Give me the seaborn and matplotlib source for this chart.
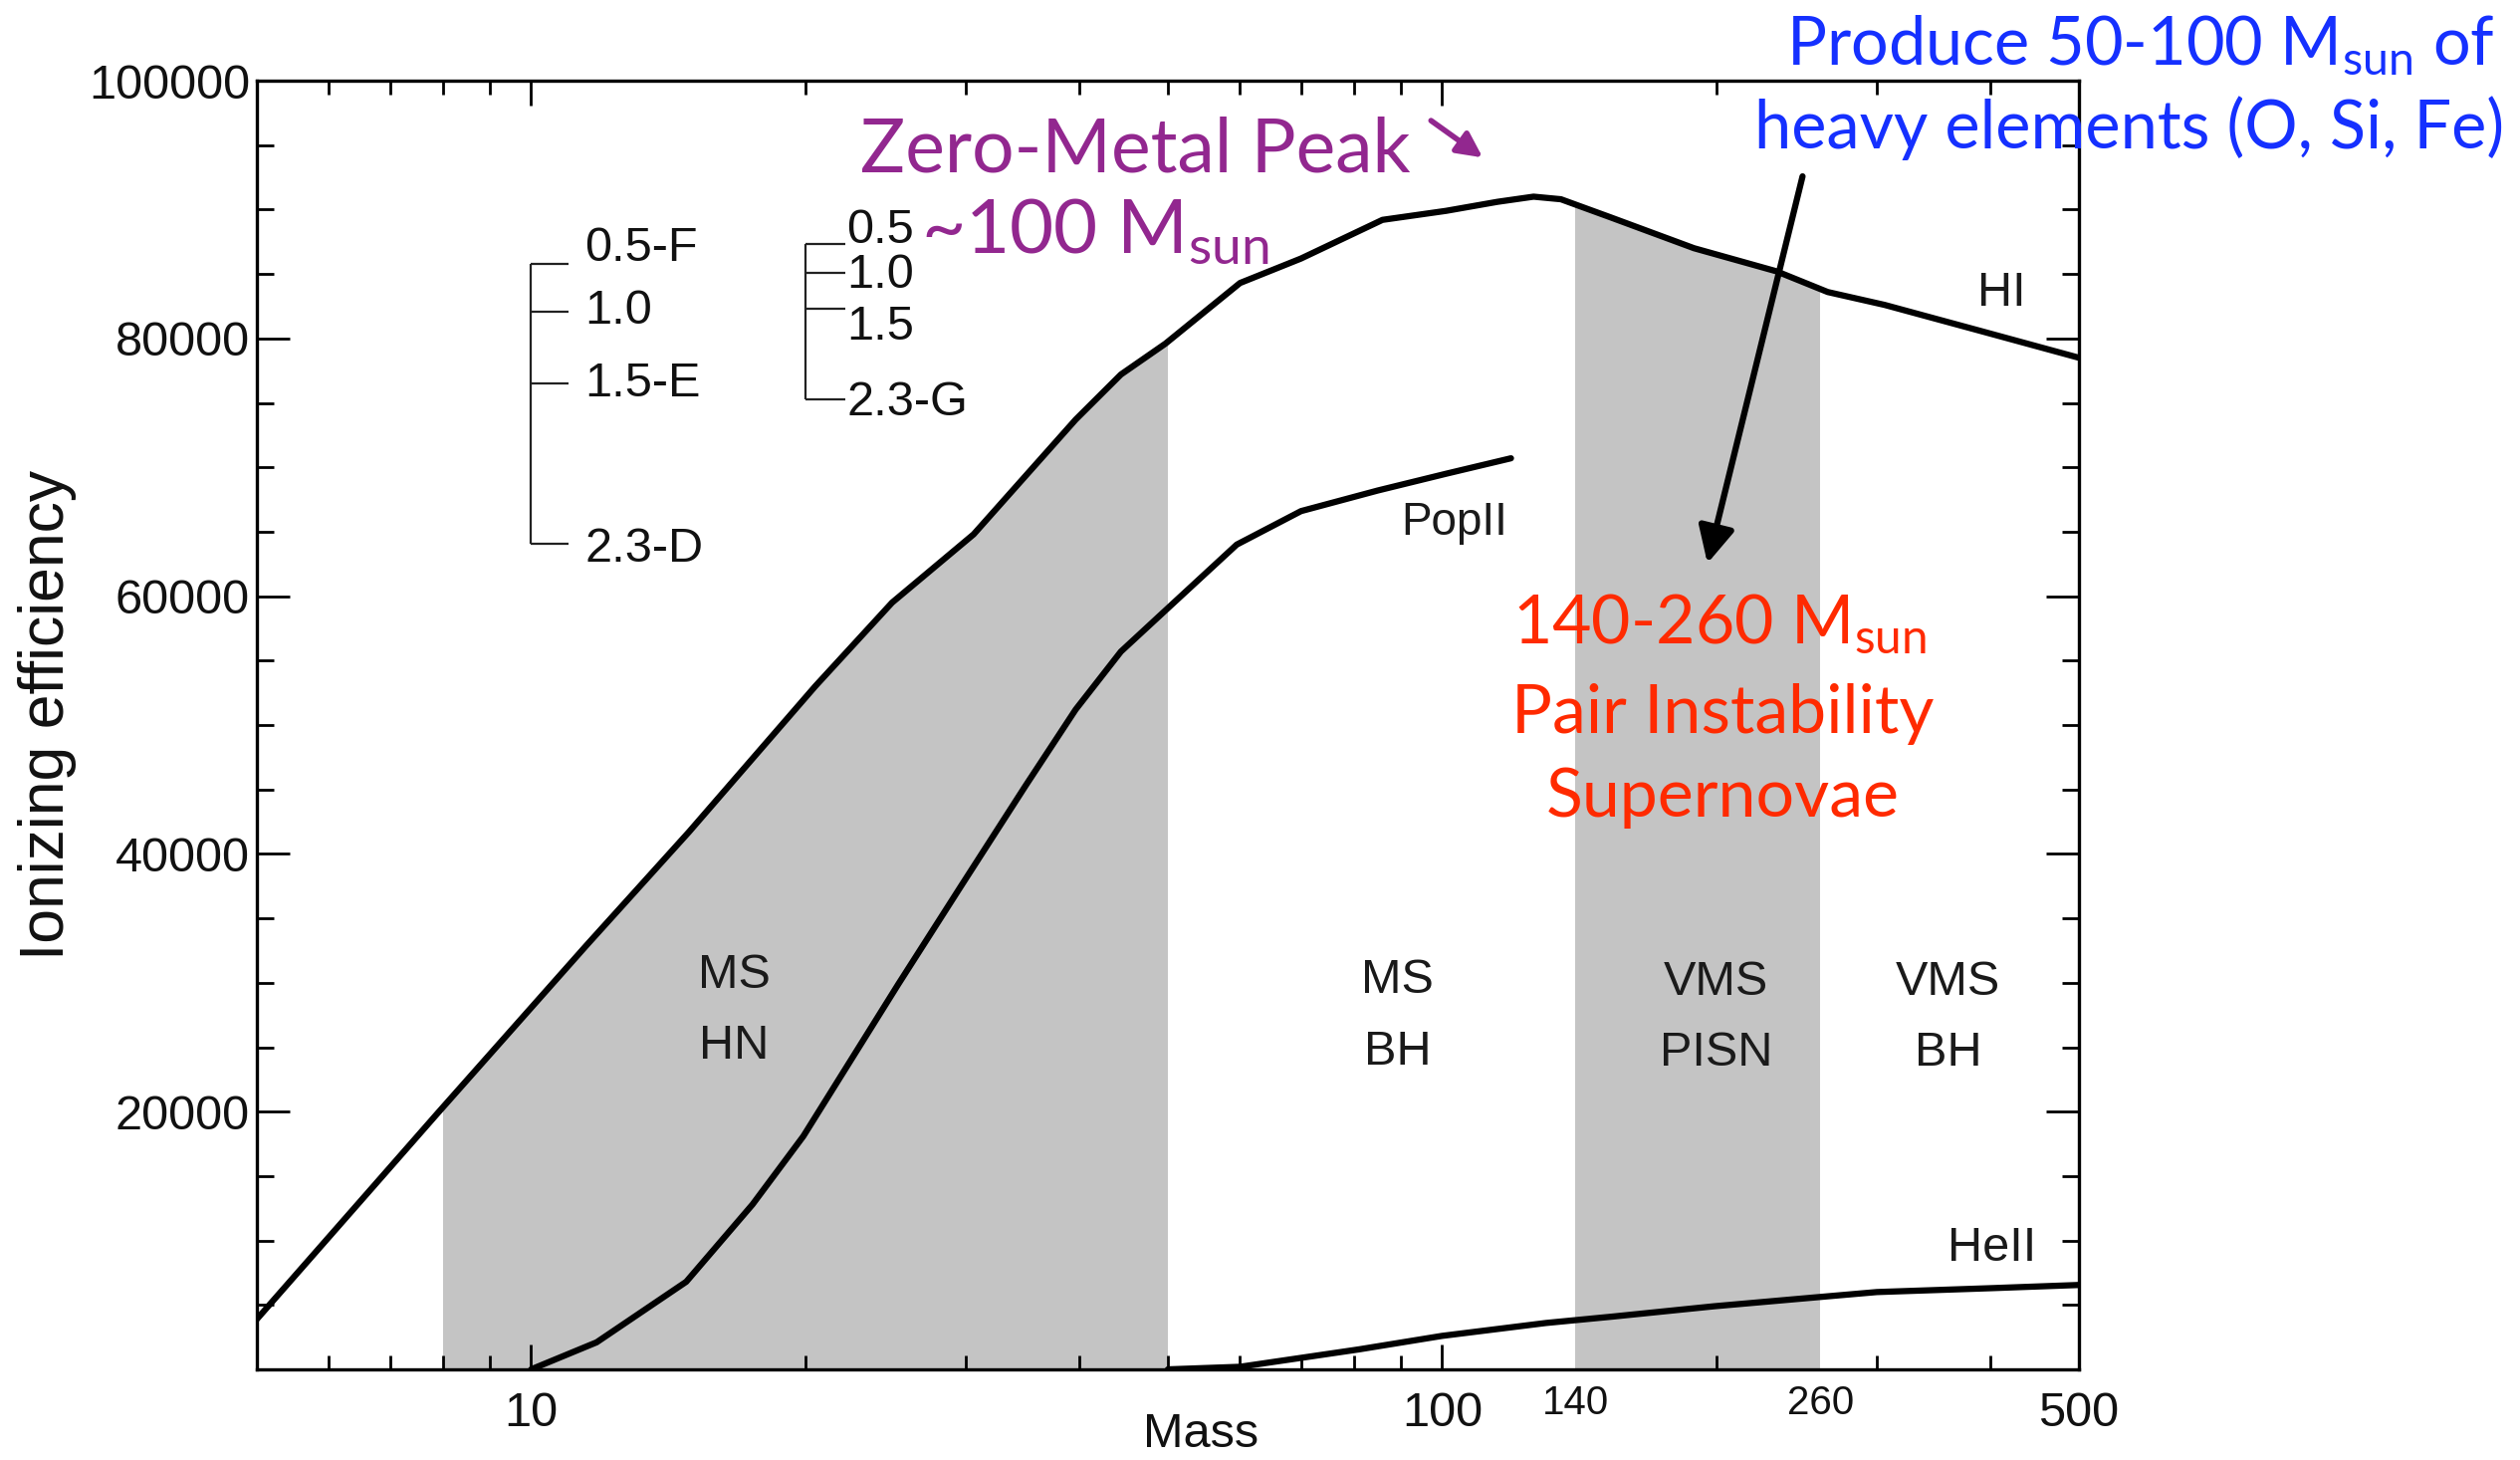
import matplotlib
matplotlib.use("Agg")
import matplotlib.pyplot as plt
import seaborn as sns
import pandas as pd
from matplotlib.patches import Polygon
from matplotlib.ticker import FixedLocator, FixedFormatter, NullFormatter, MultipleLocator

# ---- curves: ionizing efficiency vs stellar mass ----
hi_mass = [5, 7.9, 11.5, 14.9, 20.5, 24.9, 30.6, 39.6, 44.4, 49.7, 60, 70, 86, 101,
           115, 126, 135, 153, 189, 233, 265, 306, 389, 500]
hi_eff = [3900, 19900, 32900, 41700, 53000, 59500, 64800, 73700, 77200, 79600, 84300,
          86200, 89200, 89900, 90600, 91000, 90800, 89400, 87000, 85200, 83600, 82600,
          80600, 78500]

popii_mass = [10, 11.8, 14.8, 17.5, 19.9, 25.3, 29.7, 34.9, 39.6, 44.4, 49.7, 59.5, 70,
              85, 101, 119]
popii_eff = [0, 2100, 6800, 12800, 18100, 29900, 37600, 45300, 51200, 55700, 58900,
             64000, 66600, 68200, 69500, 70700]

heii_mass = [50, 60, 81, 100, 130, 154, 199, 263, 300, 400, 500]
heii_eff = [0, 200, 1550, 2600, 3600, 4100, 4900, 5650, 6000, 6300, 6550]

# shaded mass ranges (MS-HN and PISN)
band_lo = [8, 140]
band_hi = [50, 260]

# IMF slope brackets
imf_left_levels = [85800, 82100, 76500, 64100]
imf_left_labels = ["0.5-F", "1.0", "1.5-E", "2.3-D"]
imf_left_label_y = [86970, 82100, 76460, 63630]
imf_right_levels = [87300, 85100, 82300, 75300]
imf_right_labels = ["0.5", "1.0", "1.5", "2.3-G"]
imf_right_label_y = [88360, 84920, 80900, 75000]

x_major = [10, 100, 500]
x_major_labels = ["10", "100", "500"]
x_minor = [6, 7, 8, 9, 20, 30, 40, 50, 60, 70, 80, 90, 200, 300, 400]
y_major = [20000, 40000, 60000, 80000, 100000]

sns.set_theme(style="ticks")
plt.rcParams["font.family"] = ["Liberation Sans", "DejaVu Sans"]
plt.rcParams["mathtext.fontset"] = "custom"
plt.rcParams["mathtext.rm"] = "Lato"
plt.rcParams["mathtext.it"] = "Lato:italic"
plt.rcParams["mathtext.bf"] = "Lato:bold"

fig = plt.figure(figsize=(25.31, 14.66), dpi=100)
fig.patch.set_facecolor("white")
ax = fig.add_axes([0.10194, 0.06207, 0.72303, 0.88267])
ax.set_facecolor("white")
ax.set_xscale("log")
ax.set_xlim(5, 500)
ax.set_ylim(0, 100000)

# gray bands only under the HI curve
hi_poly = Polygon(list(zip(hi_mass, hi_eff)) + [(500, 0), (5, 0)], closed=True,
                  transform=ax.transData, facecolor="none", edgecolor="none")
ax.add_patch(hi_poly)
for lo, hi in zip(band_lo, band_hi):
    span = ax.axvspan(lo, hi, color="#c4c4c4", lw=0, zorder=0.5)
    span.set_clip_path(hi_poly)

line_kw = dict(color="black", linewidth=4.5, ax=ax, legend=False)
sns.lineplot(data=pd.DataFrame({"m": hi_mass, "e": hi_eff}), x="m", y="e", **line_kw)
sns.lineplot(data=pd.DataFrame({"m": popii_mass, "e": popii_eff}), x="m", y="e", **line_kw)
sns.lineplot(data=pd.DataFrame({"m": heii_mass, "e": heii_eff}), x="m", y="e", **line_kw)

# axes styling
for s in ax.spines.values():
    s.set_linewidth(2.4)
    s.set_color("black")
ax.xaxis.set_major_locator(FixedLocator(x_major))
ax.xaxis.set_major_formatter(FixedFormatter(x_major_labels))
ax.xaxis.set_minor_locator(FixedLocator(x_minor))
ax.xaxis.set_minor_formatter(NullFormatter())
ax.yaxis.set_major_locator(FixedLocator(y_major))
ax.yaxis.set_major_formatter(FixedFormatter([str(v) for v in y_major]))
ax.yaxis.set_minor_locator(MultipleLocator(5000))
ax.tick_params(which="both", direction="in", top=True, right=True, colors="black",
               labelsize=35, width=2)
ax.tick_params(axis="y", which="major", length=24, pad=5)
ax.tick_params(axis="y", which="minor", length=12)
ax.tick_params(axis="x", which="major", length=18, pad=16)
ax.tick_params(axis="x", which="minor", length=10)
for lab in ax.get_xticklabels() + ax.get_yticklabels():
    lab.set_color("#111111")

xt = ax.get_xaxis_transform()
for v in (140, 260):
    ax.text(v, -0.026, str(v), transform=xt, ha="center", va="center",
            fontsize=29, color="#111111")

ax.set_xlabel("Mass", fontsize=35, color="#111111")
ax.xaxis.label.set_va("center")
ax.xaxis.set_label_coords(0.518, -0.051)
ax.set_ylabel("Ionizing efficiency", fontsize=45, color="#111111")
ax.yaxis.label.set_va("center")
ax.yaxis.set_label_coords(-0.115, 0.508)

# region labels
reg_kw = dict(ha="center", va="center", fontsize=35, color="#1a1a1a", linespacing=1.75)
ax.text(16.7, 27800, "MS\nHN", **reg_kw)
ax.text(89.3, 27400, "MS\nBH", **reg_kw)
ax.text(200, 27300, "VMS\nPISN", **reg_kw)
ax.text(359, 27300, "VMS\nBH", **reg_kw)
ax.text(411, 83500, "HI", ha="center", va="center", fontsize=35, color="#1a1a1a")
ax.text(401, 9360, "HeII", ha="center", va="center", fontsize=35, color="#1a1a1a")
ax.text(103, 65650, "PopII", ha="center", va="center", fontsize=33, color="#1a1a1a")

# IMF brackets
br_kw = dict(color="#222222", lw=1.6)
ax.vlines(10, min(imf_left_levels), max(imf_left_levels), **br_kw)
ax.hlines(imf_left_levels, 10, 10.98, **br_kw)
for t, y in zip(imf_left_labels, imf_left_label_y):
    ax.text(11.45, y, t, ha="left", va="center", fontsize=35, color="#111111")
ax.vlines(20, min(imf_right_levels), max(imf_right_levels), **br_kw)
ax.hlines(imf_right_levels, 20, 22.1, **br_kw)
for t, y in zip(imf_right_labels, imf_right_label_y):
    ax.text(22.2, y, t, ha="left", va="center", fontsize=35, color="#111111")


def fpos(x, y):
    return x / 1568, 1 - y / 908


purple = "#92278f"
blue = "#1530ff"
red = "#ff2a00"

fig.text(*fpos(535, 107), "Zero-Metal Peak", family="Lato", fontsize=54,
         color=purple, ha="left", va="baseline")
fig.text(*fpos(573, 157), r"~100 M$_{\mathrm{sun}}$", family="Lato", fontsize=55,
         color=purple, ha="left", va="baseline")
fig.add_artist(matplotlib.patches.FancyArrowPatch(
    fpos(889, 74), fpos(924, 99), transform=fig.transFigure,
    arrowstyle="-|>", mutation_scale=38, lw=4, color=purple))

fig.text(*fpos(1552, 40), r"Produce 50-100 M$_{\mathrm{sun}}$ of", family="Lato",
         fontsize=48, color=blue, ha="right", va="baseline")
fig.text(*fpos(1558, 92), "heavy elements (O, Si, Fe)", family="Lato",
         fontsize=48, color=blue, ha="right", va="baseline")

fig.text(*fpos(1070, 400), r"140-260 M$_{\mathrm{sun}}$", family="Lato",
         fontsize=49, color=red, ha="center", va="baseline")
fig.text(*fpos(1072, 456), "Pair Instability", family="Lato",
         fontsize=49, color=red, ha="center", va="baseline")
fig.text(*fpos(1072, 508), "Supernovae", family="Lato",
         fontsize=49, color=red, ha="center", va="baseline")

fig.add_artist(matplotlib.patches.FancyArrowPatch(
    fpos(1122, 108), fpos(1062, 352), transform=fig.transFigure,
    arrowstyle="-|>", mutation_scale=55, lw=4.5, color="black"))

fig.savefig("out.png", dpi=100, facecolor="white")
